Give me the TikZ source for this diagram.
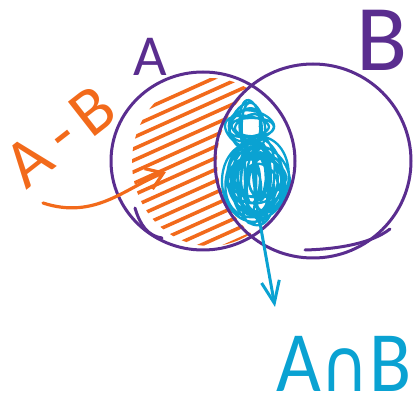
\documentclass[tikz,border=0pt]{standalone}
\usepackage{fontspec}
\setmainfont{Carlito}
\newfontfamily\dejavu{DejaVu Sans}
\usetikzlibrary{arrows.meta,shapes.geometric}
\definecolor{vpurple}{HTML}{5A2D8F}
\definecolor{vorange}{HTML}{F26A1B}
\definecolor{vblue}{HTML}{0AA2D2}
\tikzset{
  setline/.style={vpurple, line width=3pt},
  hatchline/.style={vorange, line width=3.6pt},
  scribble/.style={vblue, line width=2.3pt},
  lbl/.style={inner sep=0pt, outer sep=0pt},
}
\begin{document}
\begin{tikzpicture}[x=1pt,y=-1pt,line cap=round,line join=round]
\useasboundingbox (0,0) rectangle (415,403);
% hatching of A - B
\begin{scope}
  \clip (210,162) ellipse [x radius=78, y radius=84];
  \begin{scope}[even odd rule]
  \clip (0,0) rectangle (415,403) (313,161) ellipse [x radius=96, y radius=95];
  \foreach \i in {0,...,18}
    \draw[hatchline] (100,{95+11.5*\i}) -- ++(160,-72);
  \end{scope}
\end{scope}
% scribble of A cap B
\draw[scribble] plot[smooth, domain=0:7920, samples=800, variable=\t]
  ({256+(18+13*sin(\t/4.3))*cos(\t)+5*sin(\t/9)}, {180+(30+12*cos(\t/5.1))*sin(\t)+4*cos(\t/7)});
\draw[scribble] plot[smooth, domain=0:2880, samples=300, variable=\t]
  ({249+(16+7*sin(\t/3.1))*cos(\t)+3*sin(\t/5)}, {127+(18+9*cos(\t/2.7))*sin(\t)});
% circles
\node[setline, draw, ellipse, minimum width=184pt, minimum height=178pt, inner sep=0pt] (A) at (203,161) {};
\node[setline, draw, ellipse, minimum width=196pt, minimum height=194pt, inner sep=0pt] (B) at (313,161) {};
\draw[setline] (135,208) .. controls (140,225) and (148,236) .. (162,238);
\draw[setline] (305,250) .. controls (340,249) and (372,243) .. (390,229);
% labels
\node[lbl, vpurple, font=\fontsize{58}{58}\selectfont] (la) at (150,57) {A};
\node[lbl, vpurple, font=\fontsize{94}{94}\selectfont] (lb) at (382,40) {B};
\node[lbl, vorange, rotate=38, font=\fontsize{68}{68}\selectfont] (lamb) at (60,136) {A\,-\,B};
\node[lbl, vblue, xscale=0.9, font=\fontsize{86}{86}\selectfont] (lcap) at (344,364) {A{\dejavu\fontsize{74}{74}\selectfont ∩}B};
% arrows
\coordinate (os) at (43,203);
\coordinate (oe) at (166,172);
\draw[vorange, line width=3.2pt, -{Straight Barb[length=16pt,width=22pt]}] (os) .. controls (95,220) and (125,188) .. (oe);
\coordinate (bs) at (258,212);
\coordinate (be) at (275,307);
\draw[vblue, line width=3pt, -{Straight Barb[length=22pt,width=18pt]}] (bs) -- (be);
\end{tikzpicture}
\end{document}
